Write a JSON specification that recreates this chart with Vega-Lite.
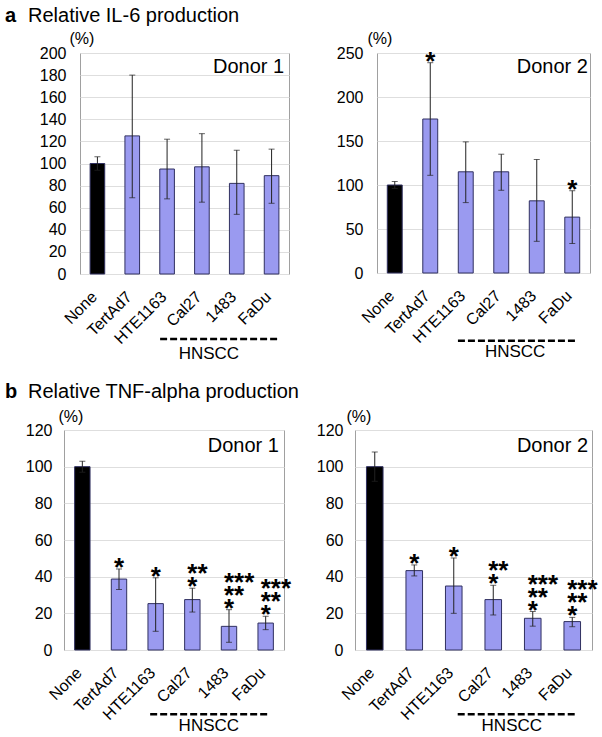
{
  "$schema": "https://vega.github.io/schema/vega-lite/v6.json",
  "background": "white",
  "padding": {"left": 5, "top": 5, "right": 2, "bottom": 0},
  "config": {
    "font": "Liberation Sans",
    "view": {"stroke": "#a0a0a0", "strokeWidth": 1},
    "axis": {"labelFont": "Liberation Sans", "titleFont": "Liberation Sans", "labelColor": "#000000", "titleColor": "#000000", "titleFontWeight": "normal", "domain": false, "ticks": false, "tickSize": 0, "labelOverlap": false},
    "title": {"font": "Liberation Sans", "fontSize": 20, "fontWeight": "normal", "color": "#000000", "anchor": "start"},
    "text": {"font": "Liberation Sans", "color": "#000000"}
  },
  "datasets": {
    "a1": [
      {"cat": "None", "value": 100, "lo": 94, "hi": 106, "stars": ""},
      {"cat": "TertAd7", "value": 125, "lo": 69, "hi": 180, "stars": ""},
      {"cat": "HTE1163", "value": 95, "lo": 68, "hi": 122, "stars": ""},
      {"cat": "Cal27", "value": 97, "lo": 65, "hi": 127, "stars": ""},
      {"cat": "1483", "value": 82, "lo": 54, "hi": 112, "stars": ""},
      {"cat": "FaDu", "value": 89, "lo": 64, "hi": 113, "stars": ""}
    ],
    "a2": [
      {"cat": "None", "value": 100, "lo": 96, "hi": 104, "stars": ""},
      {"cat": "TertAd7", "value": 175, "lo": 111, "hi": 239, "stars": "*"},
      {"cat": "HTE1163", "value": 115, "lo": 80, "hi": 149, "stars": ""},
      {"cat": "Cal27", "value": 115, "lo": 94, "hi": 135, "stars": ""},
      {"cat": "1483", "value": 82, "lo": 36, "hi": 129, "stars": ""},
      {"cat": "FaDu", "value": 63.5, "lo": 33.5, "hi": 93.5, "stars": "*"}
    ],
    "b1": [
      {"cat": "None", "value": 100, "lo": 97, "hi": 103, "stars": ""},
      {"cat": "TertAd7", "value": 38.7, "lo": 33, "hi": 44.2, "stars": "*"},
      {"cat": "HTE1163", "value": 25.3, "lo": 10.2, "hi": 39.4, "stars": "*"},
      {"cat": "Cal27", "value": 27.5, "lo": 20.7, "hi": 33.7, "stars": "**\n*"},
      {"cat": "1483", "value": 12.9, "lo": 4.2, "hi": 22, "stars": "***\n**\n*"},
      {"cat": "FaDu", "value": 14.7, "lo": 11.1, "hi": 18.4, "stars": "***\n**\n*"}
    ],
    "b2": [
      {"cat": "None", "value": 100, "lo": 92, "hi": 108, "stars": ""},
      {"cat": "TertAd7", "value": 43.3, "lo": 40.4, "hi": 46.4, "stars": "*"},
      {"cat": "HTE1163", "value": 34.9, "lo": 20, "hi": 50.2, "stars": "*"},
      {"cat": "Cal27", "value": 27.5, "lo": 19.1, "hi": 35.3, "stars": "**\n*"},
      {"cat": "1483", "value": 17.3, "lo": 13, "hi": 21, "stars": "***\n**\n*"},
      {"cat": "FaDu", "value": 15.5, "lo": 12.7, "hi": 17.8, "stars": "***\n**\n*"}
    ],
    "ann": [
      {"panel": "a1", "x1": 2.30, "x2": 5.68, "ry": -58.8, "hx": 3.70, "hy": -72.4, "hlabel": "HNSCC", "donx": 5.86, "dony": 182, "donor": "Donor 1"},
      {"panel": "a2", "x1": 2.28, "x2": 5.60, "ry": -77, "hx": 3.89, "hy": -90.3, "hlabel": "HNSCC", "donx": 5.94, "dony": 227, "donor": "Donor 2"},
      {"panel": "b1", "x1": 2.35, "x2": 5.56, "ry": -35, "hx": 3.95, "hy": -41.5, "hlabel": "HNSCC", "donx": 5.86, "dony": 108, "donor": "Donor 1"},
      {"panel": "b2", "x1": 2.60, "x2": 5.62, "ry": -35, "hx": 3.97, "hy": -41.5, "hlabel": "HNSCC", "donx": 5.90, "dony": 108, "donor": "Donor 2"}
    ]
  },
  "vconcat": [
    {
      "title": {"text": "a", "fontWeight": "bold", "dy": 24},
      "vconcat": [
        {
          "title": {"text": "Relative IL-6 production", "dx": 23, "offset": 4},
          "hconcat": [
            {"width": 33, "height": 1, "view": {"stroke": null, "fill": "white"}, "data": {"values": []}, "mark": "point"},
            {
              "hconcat": [
                {
                  "width": 209, "height": 221,
                  "layer": [
                    {"layer": [
                      {"data": {"name": "a1"}, "mark": {"type": "bar", "stroke": "#303060", "strokeWidth": 1},
                       "encoding": {
                         "x": {"field": "cat", "type": "nominal", "sort": null, "scale": {"paddingInner": 0.58, "paddingOuter": 0.29},
                               "axis": {"title": null, "labelAngle": -45, "labelAlign": "right", "labelBaseline": "middle", "labelFontSize": 16, "labelPadding": 20, "labelOffset": -3, "grid": false}},
                         "y": {"field": "value", "type": "quantitative", "title": "(%)", "scale": {"domain": [0, 200], "nice": false},
                               "axis": {"values": [0, 20, 40, 60, 80, 100, 120, 140, 160, 180, 200], "titleAngle": 0, "titleAlign": "left", "titleBaseline": "alphabetic", "titleX": -11, "titleY": -10, "titleFontSize": 16, "labelFontSize": 16, "labelPadding": 14, "grid": true, "gridColor": "#dedede"}},
                         "fill": {"condition": {"test": "datum.cat === 'None'", "value": "#000000"}, "value": "#9a9af0"}
                       }},
                      {"data": {"name": "a1"}, "mark": {"type": "errorbar", "ticks": {"size": 6, "color": "#222222"}, "rule": {"color": "#222222", "strokeWidth": 1}},
                       "encoding": {"x": {"field": "cat", "type": "nominal", "sort": null}, "y": {"field": "lo", "type": "quantitative", "title": "(%)", "axis": {"values": [0, 20, 40, 60, 80, 100, 120, 140, 160, 180, 200], "titleAngle": 0, "titleAlign": "left", "titleBaseline": "alphabetic", "titleX": -11, "titleY": -10, "titleFontSize": 16, "labelFontSize": 16, "labelPadding": 14, "grid": true, "gridColor": "#dedede"}}, "y2": {"field": "hi"}}}
                    ]},
                    {"data": {"name": "ann"}, "transform": [{"filter": "datum.panel == 'a1'"}],
                     "layer": [
                       {"mark": {"type": "rule", "strokeDash": [7, 3], "strokeWidth": 2.5, "color": "#000000"},
                        "encoding": {"x": {"field": "x1", "type": "quantitative", "scale": {"domain": [0, 6], "nice": false, "zero": false}, "axis": null}, "x2": {"field": "x2"}, "y": {"field": "ry", "type": "quantitative", "title": "(%)", "axis": {"values": [0, 20, 40, 60, 80, 100, 120, 140, 160, 180, 200], "titleAngle": 0, "titleAlign": "left", "titleBaseline": "alphabetic", "titleX": -11, "titleY": -10, "titleFontSize": 16, "labelFontSize": 16, "labelPadding": 14, "grid": true, "gridColor": "#dedede"}}}},
                       {"mark": {"type": "text", "align": "center", "baseline": "middle", "fontSize": 17},
                        "encoding": {"x": {"field": "hx", "type": "quantitative", "axis": null}, "y": {"field": "hy", "type": "quantitative", "title": "(%)", "axis": {"values": [0, 20, 40, 60, 80, 100, 120, 140, 160, 180, 200], "titleAngle": 0, "titleAlign": "left", "titleBaseline": "alphabetic", "titleX": -11, "titleY": -10, "titleFontSize": 16, "labelFontSize": 16, "labelPadding": 14, "grid": true, "gridColor": "#dedede"}}, "text": {"field": "hlabel"}}},
                       {"mark": {"type": "text", "align": "right", "baseline": "alphabetic", "fontSize": 20},
                        "encoding": {"x": {"field": "donx", "type": "quantitative", "axis": null}, "y": {"field": "dony", "type": "quantitative", "title": "(%)", "axis": {"values": [0, 20, 40, 60, 80, 100, 120, 140, 160, 180, 200], "titleAngle": 0, "titleAlign": "left", "titleBaseline": "alphabetic", "titleX": -11, "titleY": -10, "titleFontSize": 16, "labelFontSize": 16, "labelPadding": 14, "grid": true, "gridColor": "#dedede"}}, "text": {"field": "donor"}}}
                     ]}
                  ],
                  "resolve": {"scale": {"x": "independent"}}
                },
                {
                  "width": 213, "height": 220,
                  "layer": [
                    {"layer": [
                      {"data": {"name": "a2"}, "mark": {"type": "bar", "stroke": "#303060", "strokeWidth": 1},
                       "encoding": {
                         "x": {"field": "cat", "type": "nominal", "sort": null, "scale": {"paddingInner": 0.58, "paddingOuter": 0.29},
                               "axis": {"title": null, "labelAngle": -45, "labelAlign": "right", "labelBaseline": "middle", "labelFontSize": 16, "labelPadding": 20, "labelOffset": -3, "grid": false}},
                         "y": {"field": "value", "type": "quantitative", "title": "(%)", "scale": {"domain": [0, 250], "nice": false},
                               "axis": {"values": [0, 50, 100, 150, 200, 250], "titleAngle": 0, "titleAlign": "left", "titleBaseline": "alphabetic", "titleX": -10, "titleY": -10, "titleFontSize": 16, "labelFontSize": 16, "labelPadding": 14, "grid": true, "gridColor": "#dedede"}},
                         "fill": {"condition": {"test": "datum.cat === 'None'", "value": "#000000"}, "value": "#9a9af0"}
                       }},
                      {"data": {"name": "a2"}, "mark": {"type": "errorbar", "ticks": {"size": 6, "color": "#222222"}, "rule": {"color": "#222222", "strokeWidth": 1}},
                       "encoding": {"x": {"field": "cat", "type": "nominal", "sort": null}, "y": {"field": "lo", "type": "quantitative", "title": "(%)", "axis": {"values": [0, 50, 100, 150, 200, 250], "titleAngle": 0, "titleAlign": "left", "titleBaseline": "alphabetic", "titleX": -10, "titleY": -10, "titleFontSize": 16, "labelFontSize": 16, "labelPadding": 14, "grid": true, "gridColor": "#dedede"}}, "y2": {"field": "hi"}}},
                      {"data": {"name": "a2"}, "transform": [{"filter": "length(datum.stars) == 1"}],
                       "mark": {"type": "text", "align": "left", "baseline": "bottom", "dx": -5, "dy": 12, "fontSize": 26, "fontWeight": "bold", "lineHeight": 13, "lineBreak": "\n"},
                       "encoding": {"x": {"field": "cat", "type": "nominal", "sort": null}, "y": {"field": "hi", "type": "quantitative", "title": "(%)", "axis": {"values": [0, 50, 100, 150, 200, 250], "titleAngle": 0, "titleAlign": "left", "titleBaseline": "alphabetic", "titleX": -10, "titleY": -10, "titleFontSize": 16, "labelFontSize": 16, "labelPadding": 14, "grid": true, "gridColor": "#dedede"}}, "text": {"field": "stars"}}}
                    ]},
                    {"data": {"name": "ann"}, "transform": [{"filter": "datum.panel == 'a2'"}],
                     "layer": [
                       {"mark": {"type": "rule", "strokeDash": [7, 3], "strokeWidth": 2.5, "color": "#000000"},
                        "encoding": {"x": {"field": "x1", "type": "quantitative", "scale": {"domain": [0, 6], "nice": false, "zero": false}, "axis": null}, "x2": {"field": "x2"}, "y": {"field": "ry", "type": "quantitative", "title": "(%)", "axis": {"values": [0, 50, 100, 150, 200, 250], "titleAngle": 0, "titleAlign": "left", "titleBaseline": "alphabetic", "titleX": -10, "titleY": -10, "titleFontSize": 16, "labelFontSize": 16, "labelPadding": 14, "grid": true, "gridColor": "#dedede"}}}},
                       {"mark": {"type": "text", "align": "center", "baseline": "middle", "fontSize": 17},
                        "encoding": {"x": {"field": "hx", "type": "quantitative", "axis": null}, "y": {"field": "hy", "type": "quantitative", "title": "(%)", "axis": {"values": [0, 50, 100, 150, 200, 250], "titleAngle": 0, "titleAlign": "left", "titleBaseline": "alphabetic", "titleX": -10, "titleY": -10, "titleFontSize": 16, "labelFontSize": 16, "labelPadding": 14, "grid": true, "gridColor": "#dedede"}}, "text": {"field": "hlabel"}}},
                       {"mark": {"type": "text", "align": "right", "baseline": "alphabetic", "fontSize": 20},
                        "encoding": {"x": {"field": "donx", "type": "quantitative", "axis": null}, "y": {"field": "dony", "type": "quantitative", "title": "(%)", "axis": {"values": [0, 50, 100, 150, 200, 250], "titleAngle": 0, "titleAlign": "left", "titleBaseline": "alphabetic", "titleX": -10, "titleY": -10, "titleFontSize": 16, "labelFontSize": 16, "labelPadding": 14, "grid": true, "gridColor": "#dedede"}}, "text": {"field": "donor"}}}
                     ]}
                  ],
                  "resolve": {"scale": {"x": "independent"}}
                }
              ],
              "spacing": 45,
              "align": "each"
            }
          ],
          "spacing": 0,
          "align": "each"
        }
      ]
    },
    {
      "title": {"text": "b", "fontWeight": "bold", "dy": 24},
      "vconcat": [
        {
          "title": {"text": "Relative TNF-alpha production", "dx": 23, "offset": 6},
          "hconcat": [
            {"width": 19, "height": 1, "view": {"stroke": null, "fill": "white"}, "data": {"values": []}, "mark": "point"},
            {
              "hconcat": [
                {
                  "width": 220, "height": 220,
                  "layer": [
                    {"layer": [
                      {"data": {"name": "b1"}, "mark": {"type": "bar", "stroke": "#303060", "strokeWidth": 1},
                       "encoding": {
                         "x": {"field": "cat", "type": "nominal", "sort": null, "scale": {"paddingInner": 0.58, "paddingOuter": 0.29},
                               "axis": {"title": null, "labelAngle": -45, "labelAlign": "right", "labelBaseline": "middle", "labelFontSize": 16, "labelPadding": 20, "labelOffset": -3, "grid": false}},
                         "y": {"field": "value", "type": "quantitative", "title": "(%)", "scale": {"domain": [0, 120], "nice": false},
                               "axis": {"values": [0, 20, 40, 60, 80, 100, 120], "titleAngle": 0, "titleAlign": "left", "titleBaseline": "alphabetic", "titleX": -6, "titleY": -9, "titleFontSize": 16, "labelFontSize": 16, "labelPadding": 12, "grid": true, "gridColor": "#dedede"}},
                         "fill": {"condition": {"test": "datum.cat === 'None'", "value": "#000000"}, "value": "#9a9af0"}
                       }},
                      {"data": {"name": "b1"}, "mark": {"type": "errorbar", "ticks": {"size": 6, "color": "#222222"}, "rule": {"color": "#222222", "strokeWidth": 1}},
                       "encoding": {"x": {"field": "cat", "type": "nominal", "sort": null}, "y": {"field": "lo", "type": "quantitative", "title": "(%)", "axis": {"values": [0, 20, 40, 60, 80, 100, 120], "titleAngle": 0, "titleAlign": "left", "titleBaseline": "alphabetic", "titleX": -6, "titleY": -9, "titleFontSize": 16, "labelFontSize": 16, "labelPadding": 12, "grid": true, "gridColor": "#dedede"}}, "y2": {"field": "hi"}}},
                      {"data": {"name": "b1"}, "transform": [{"filter": "length(datum.stars) == 1"}],
                       "mark": {"type": "text", "align": "left", "baseline": "bottom", "dx": -5, "dy": 12, "fontSize": 26, "fontWeight": "bold", "lineHeight": 13, "lineBreak": "\n"},
                       "encoding": {"x": {"field": "cat", "type": "nominal", "sort": null}, "y": {"field": "hi", "type": "quantitative", "title": "(%)", "axis": {"values": [0, 20, 40, 60, 80, 100, 120], "titleAngle": 0, "titleAlign": "left", "titleBaseline": "alphabetic", "titleX": -6, "titleY": -9, "titleFontSize": 16, "labelFontSize": 16, "labelPadding": 12, "grid": true, "gridColor": "#dedede"}}, "text": {"field": "stars"}}},
                      {"data": {"name": "b1"}, "transform": [{"filter": "length(datum.stars) == 4"}],
                       "mark": {"type": "text", "align": "left", "baseline": "bottom", "dx": -5, "dy": -1, "fontSize": 26, "fontWeight": "bold", "lineHeight": 13, "lineBreak": "\n"},
                       "encoding": {"x": {"field": "cat", "type": "nominal", "sort": null}, "y": {"field": "hi", "type": "quantitative", "title": "(%)", "axis": {"values": [0, 20, 40, 60, 80, 100, 120], "titleAngle": 0, "titleAlign": "left", "titleBaseline": "alphabetic", "titleX": -6, "titleY": -9, "titleFontSize": 16, "labelFontSize": 16, "labelPadding": 12, "grid": true, "gridColor": "#dedede"}}, "text": {"field": "stars"}}},
                      {"data": {"name": "b1"}, "transform": [{"filter": "length(datum.stars) == 8"}],
                       "mark": {"type": "text", "align": "left", "baseline": "bottom", "dx": -5, "dy": -14, "fontSize": 26, "fontWeight": "bold", "lineHeight": 13, "lineBreak": "\n"},
                       "encoding": {"x": {"field": "cat", "type": "nominal", "sort": null}, "y": {"field": "hi", "type": "quantitative", "title": "(%)", "axis": {"values": [0, 20, 40, 60, 80, 100, 120], "titleAngle": 0, "titleAlign": "left", "titleBaseline": "alphabetic", "titleX": -6, "titleY": -9, "titleFontSize": 16, "labelFontSize": 16, "labelPadding": 12, "grid": true, "gridColor": "#dedede"}}, "text": {"field": "stars"}}}
                    ]},
                    {"data": {"name": "ann"}, "transform": [{"filter": "datum.panel == 'b1'"}],
                     "layer": [
                       {"mark": {"type": "rule", "strokeDash": [7, 3], "strokeWidth": 2.5, "color": "#000000"},
                        "encoding": {"x": {"field": "x1", "type": "quantitative", "scale": {"domain": [0, 6], "nice": false, "zero": false}, "axis": null}, "x2": {"field": "x2"}, "y": {"field": "ry", "type": "quantitative", "title": "(%)", "axis": {"values": [0, 20, 40, 60, 80, 100, 120], "titleAngle": 0, "titleAlign": "left", "titleBaseline": "alphabetic", "titleX": -6, "titleY": -9, "titleFontSize": 16, "labelFontSize": 16, "labelPadding": 12, "grid": true, "gridColor": "#dedede"}}}},
                       {"mark": {"type": "text", "align": "center", "baseline": "middle", "fontSize": 17},
                        "encoding": {"x": {"field": "hx", "type": "quantitative", "axis": null}, "y": {"field": "hy", "type": "quantitative", "title": "(%)", "axis": {"values": [0, 20, 40, 60, 80, 100, 120], "titleAngle": 0, "titleAlign": "left", "titleBaseline": "alphabetic", "titleX": -6, "titleY": -9, "titleFontSize": 16, "labelFontSize": 16, "labelPadding": 12, "grid": true, "gridColor": "#dedede"}}, "text": {"field": "hlabel"}}},
                       {"mark": {"type": "text", "align": "right", "baseline": "alphabetic", "fontSize": 20},
                        "encoding": {"x": {"field": "donx", "type": "quantitative", "axis": null}, "y": {"field": "dony", "type": "quantitative", "title": "(%)", "axis": {"values": [0, 20, 40, 60, 80, 100, 120], "titleAngle": 0, "titleAlign": "left", "titleBaseline": "alphabetic", "titleX": -6, "titleY": -9, "titleFontSize": 16, "labelFontSize": 16, "labelPadding": 12, "grid": true, "gridColor": "#dedede"}}, "text": {"field": "donor"}}}
                     ]}
                  ],
                  "resolve": {"scale": {"x": "independent"}}
                },
                {
                  "width": 237, "height": 220,
                  "layer": [
                    {"layer": [
                      {"data": {"name": "b2"}, "mark": {"type": "bar", "stroke": "#303060", "strokeWidth": 1},
                       "encoding": {
                         "x": {"field": "cat", "type": "nominal", "sort": null, "scale": {"paddingInner": 0.58, "paddingOuter": 0.29},
                               "axis": {"title": null, "labelAngle": -45, "labelAlign": "right", "labelBaseline": "middle", "labelFontSize": 16, "labelPadding": 20, "labelOffset": -3, "grid": false}},
                         "y": {"field": "value", "type": "quantitative", "title": "(%)", "scale": {"domain": [0, 120], "nice": false},
                               "axis": {"values": [0, 20, 40, 60, 80, 100, 120], "titleAngle": 0, "titleAlign": "left", "titleBaseline": "alphabetic", "titleX": -9, "titleY": -9, "titleFontSize": 16, "labelFontSize": 16, "labelPadding": 12, "grid": true, "gridColor": "#dedede"}},
                         "fill": {"condition": {"test": "datum.cat === 'None'", "value": "#000000"}, "value": "#9a9af0"}
                       }},
                      {"data": {"name": "b2"}, "mark": {"type": "errorbar", "ticks": {"size": 6, "color": "#222222"}, "rule": {"color": "#222222", "strokeWidth": 1}},
                       "encoding": {"x": {"field": "cat", "type": "nominal", "sort": null}, "y": {"field": "lo", "type": "quantitative", "title": "(%)", "axis": {"values": [0, 20, 40, 60, 80, 100, 120], "titleAngle": 0, "titleAlign": "left", "titleBaseline": "alphabetic", "titleX": -9, "titleY": -9, "titleFontSize": 16, "labelFontSize": 16, "labelPadding": 12, "grid": true, "gridColor": "#dedede"}}, "y2": {"field": "hi"}}},
                      {"data": {"name": "b2"}, "transform": [{"filter": "length(datum.stars) == 1"}],
                       "mark": {"type": "text", "align": "left", "baseline": "bottom", "dx": -5, "dy": 12, "fontSize": 26, "fontWeight": "bold", "lineHeight": 13, "lineBreak": "\n"},
                       "encoding": {"x": {"field": "cat", "type": "nominal", "sort": null}, "y": {"field": "hi", "type": "quantitative", "title": "(%)", "axis": {"values": [0, 20, 40, 60, 80, 100, 120], "titleAngle": 0, "titleAlign": "left", "titleBaseline": "alphabetic", "titleX": -9, "titleY": -9, "titleFontSize": 16, "labelFontSize": 16, "labelPadding": 12, "grid": true, "gridColor": "#dedede"}}, "text": {"field": "stars"}}},
                      {"data": {"name": "b2"}, "transform": [{"filter": "length(datum.stars) == 4"}],
                       "mark": {"type": "text", "align": "left", "baseline": "bottom", "dx": -5, "dy": -1, "fontSize": 26, "fontWeight": "bold", "lineHeight": 13, "lineBreak": "\n"},
                       "encoding": {"x": {"field": "cat", "type": "nominal", "sort": null}, "y": {"field": "hi", "type": "quantitative", "title": "(%)", "axis": {"values": [0, 20, 40, 60, 80, 100, 120], "titleAngle": 0, "titleAlign": "left", "titleBaseline": "alphabetic", "titleX": -9, "titleY": -9, "titleFontSize": 16, "labelFontSize": 16, "labelPadding": 12, "grid": true, "gridColor": "#dedede"}}, "text": {"field": "stars"}}},
                      {"data": {"name": "b2"}, "transform": [{"filter": "length(datum.stars) == 8"}],
                       "mark": {"type": "text", "align": "left", "baseline": "bottom", "dx": -5, "dy": -14, "fontSize": 26, "fontWeight": "bold", "lineHeight": 13, "lineBreak": "\n"},
                       "encoding": {"x": {"field": "cat", "type": "nominal", "sort": null}, "y": {"field": "hi", "type": "quantitative", "title": "(%)", "axis": {"values": [0, 20, 40, 60, 80, 100, 120], "titleAngle": 0, "titleAlign": "left", "titleBaseline": "alphabetic", "titleX": -9, "titleY": -9, "titleFontSize": 16, "labelFontSize": 16, "labelPadding": 12, "grid": true, "gridColor": "#dedede"}}, "text": {"field": "stars"}}}
                    ]},
                    {"data": {"name": "ann"}, "transform": [{"filter": "datum.panel == 'b2'"}],
                     "layer": [
                       {"mark": {"type": "rule", "strokeDash": [7, 3], "strokeWidth": 2.5, "color": "#000000"},
                        "encoding": {"x": {"field": "x1", "type": "quantitative", "scale": {"domain": [0, 6], "nice": false, "zero": false}, "axis": null}, "x2": {"field": "x2"}, "y": {"field": "ry", "type": "quantitative", "title": "(%)", "axis": {"values": [0, 20, 40, 60, 80, 100, 120], "titleAngle": 0, "titleAlign": "left", "titleBaseline": "alphabetic", "titleX": -9, "titleY": -9, "titleFontSize": 16, "labelFontSize": 16, "labelPadding": 12, "grid": true, "gridColor": "#dedede"}}}},
                       {"mark": {"type": "text", "align": "center", "baseline": "middle", "fontSize": 17},
                        "encoding": {"x": {"field": "hx", "type": "quantitative", "axis": null}, "y": {"field": "hy", "type": "quantitative", "title": "(%)", "axis": {"values": [0, 20, 40, 60, 80, 100, 120], "titleAngle": 0, "titleAlign": "left", "titleBaseline": "alphabetic", "titleX": -9, "titleY": -9, "titleFontSize": 16, "labelFontSize": 16, "labelPadding": 12, "grid": true, "gridColor": "#dedede"}}, "text": {"field": "hlabel"}}},
                       {"mark": {"type": "text", "align": "right", "baseline": "alphabetic", "fontSize": 20},
                        "encoding": {"x": {"field": "donx", "type": "quantitative", "axis": null}, "y": {"field": "dony", "type": "quantitative", "title": "(%)", "axis": {"values": [0, 20, 40, 60, 80, 100, 120], "titleAngle": 0, "titleAlign": "left", "titleBaseline": "alphabetic", "titleX": -9, "titleY": -9, "titleFontSize": 16, "labelFontSize": 16, "labelPadding": 12, "grid": true, "gridColor": "#dedede"}}, "text": {"field": "donor"}}}
                     ]}
                  ],
                  "resolve": {"scale": {"x": "independent"}}
                }
              ],
              "spacing": 23,
              "align": "each"
            }
          ],
          "spacing": 0,
          "align": "each"
        }
      ]
    }
  ],
  "spacing": 18,
  "align": "none"
}
